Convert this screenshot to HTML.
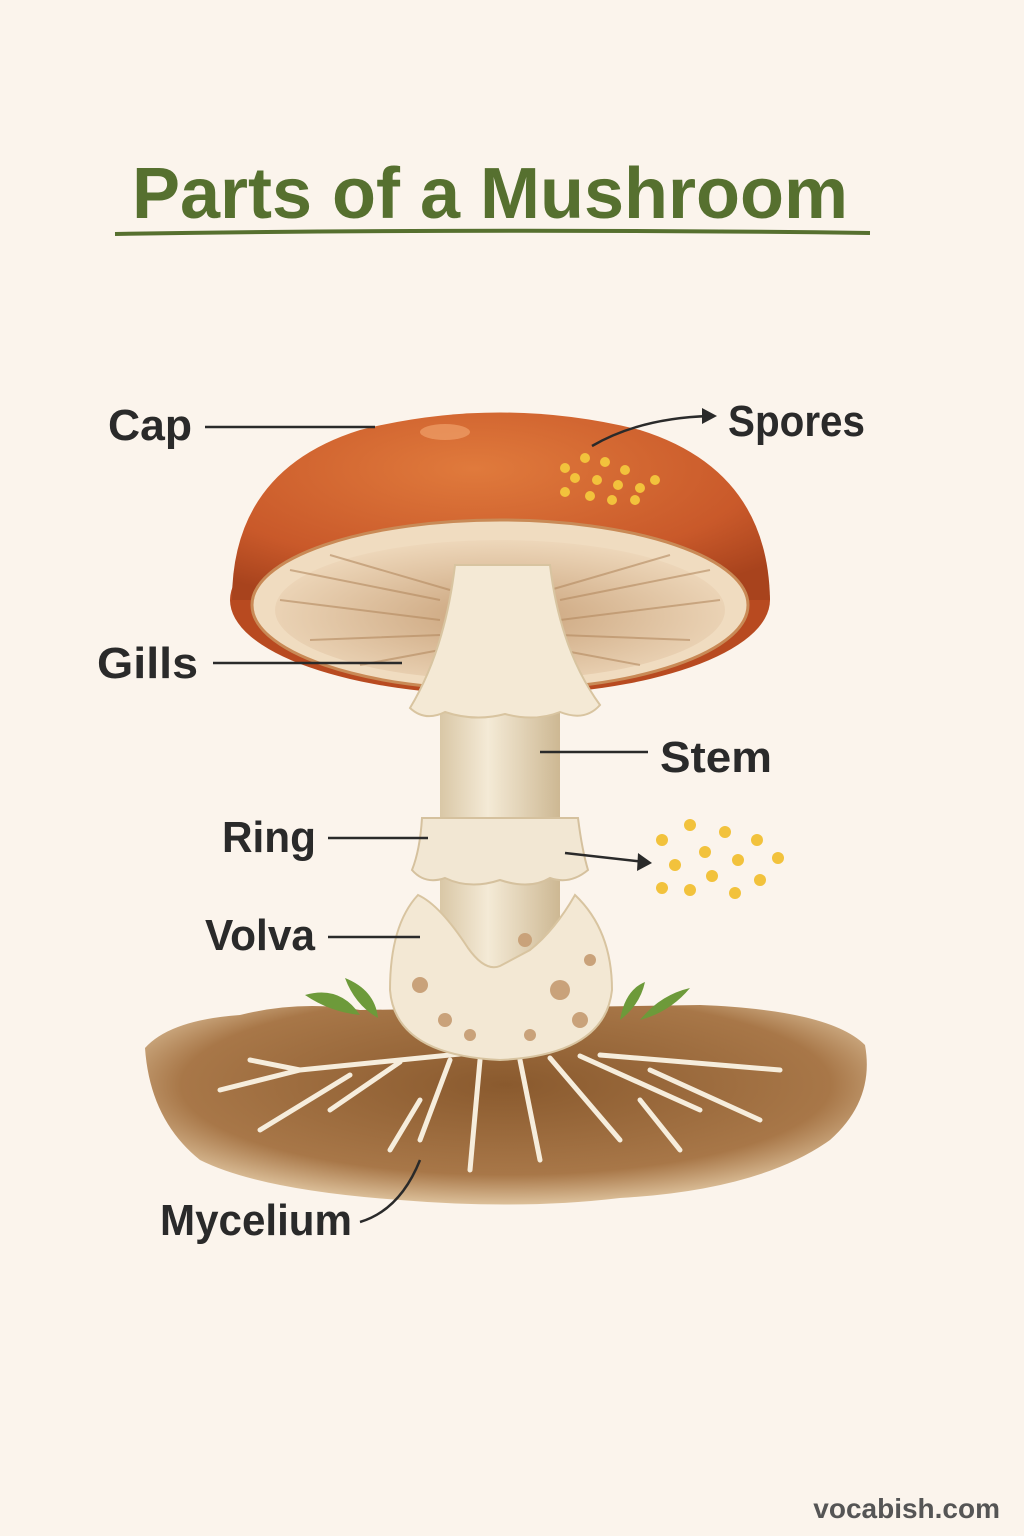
<!DOCTYPE html>
<html><head><meta charset="utf-8"><style>
html,body{margin:0;padding:0;background:#fbf4ec;}
svg{display:block}
text{font-family:"Liberation Sans","DejaVu Sans",sans-serif;font-weight:bold;}
</style></head><body>
<svg width="1024" height="1536" viewBox="0 0 1024 1536" xmlns="http://www.w3.org/2000/svg">
<defs>
<radialGradient id="capg" cx="0.45" cy="0.3" r="0.75">
<stop offset="0" stop-color="#e07a3c"/><stop offset="0.7" stop-color="#c9592a"/><stop offset="1" stop-color="#a8431d"/></radialGradient>
<radialGradient id="gillg" cx="0.5" cy="0.55" r="0.6">
<stop offset="0" stop-color="#c9a27a"/><stop offset="1" stop-color="#f1dcc0"/></radialGradient>
<linearGradient id="stemg" x1="0" x2="1">
<stop offset="0" stop-color="#d9c7a6"/><stop offset="0.4" stop-color="#f4ead6"/><stop offset="1" stop-color="#cdb893"/></linearGradient>
<radialGradient id="soilg" cx="0.5" cy="0.4" r="0.6">
<stop offset="0" stop-color="#8a5a2e"/><stop offset="0.75" stop-color="#a87748"/><stop offset="1" stop-color="#dcc09a"/></radialGradient>
</defs>
<rect width="1024" height="1536" fill="#fbf4ec"/>
<text x="490" y="218" font-size="72" fill="#56702f" text-anchor="middle">Parts of a Mushroom</text>
<path d="M115 234 Q490 228 870 233" stroke="#56702f" stroke-width="4" fill="none"/>

<!-- soil -->
<path d="M145 1048 Q170 1020 240 1015 Q300 1000 360 1010 L700 1005 Q830 1010 865 1045 Q875 1100 830 1140 Q760 1190 620 1198 Q520 1210 400 1200 Q260 1190 200 1160 Q150 1120 145 1048Z" fill="url(#soilg)"/>
<g stroke="#f6eddc" stroke-width="5" fill="none" stroke-linecap="round">
<path d="M500 1050 L300 1070 L220 1090 M400 1062 L330 1110 M350 1075 L260 1130 M450 1060 L420 1140 M480 1060 L470 1170 M520 1060 L540 1160 M550 1058 L620 1140 M580 1056 L700 1110 M600 1055 L780 1070 M650 1070 L760 1120 M300 1070 L250 1060 M420 1100 L390 1150 M640 1100 L680 1150"/>
</g>
<!-- grass -->
<path d="M305 995 Q340 985 360 1015 Q330 1012 305 995Z M345 978 Q375 990 378 1018 Q355 1005 345 978Z" fill="#6d9a3a"/>
<path d="M620 1020 Q625 990 645 982 Q640 1005 620 1020Z M640 1020 Q660 995 690 988 Q670 1012 640 1020Z" fill="#6d9a3a"/>

<!-- stem -->
<rect x="440" y="560" width="120" height="410" fill="url(#stemg)"/>
<!-- volva -->
<path d="M418 895 Q440 905 468 948 Q485 972 500 966 Q515 958 530 950 Q555 930 575 895 Q612 930 612 990 Q605 1055 500 1060 Q395 1055 390 990 Q390 925 418 895Z" fill="#f3e8d4" stroke="#d8c4a0" stroke-width="2"/>
<g fill="#c9a27a"><circle cx="420" cy="985" r="8"/><circle cx="445" cy="1020" r="7"/><circle cx="560" cy="990" r="10"/><circle cx="580" cy="1020" r="8"/><circle cx="530" cy="1035" r="6"/><circle cx="470" cy="1035" r="6"/><circle cx="525" cy="940" r="7"/><circle cx="590" cy="960" r="6"/></g>
<!-- ring -->
<path d="M422 818 L578 818 Q582 850 588 870 Q570 885 550 878 Q530 890 500 880 Q470 890 445 878 Q425 885 412 870 Q420 850 422 818Z" fill="#f2e7d3" stroke="#d5c19e" stroke-width="2"/>
<!-- cap -->
<ellipse cx="500" cy="600" rx="270" ry="95" fill="#b84a20"/>
<path d="M232 600 Q232 470 360 430 Q500 395 640 430 Q768 470 770 600 Z" fill="url(#capg)"/>
<ellipse cx="500" cy="605" rx="248" ry="85" fill="#f0dcc0" stroke="#c98a56" stroke-width="3"/>
<ellipse cx="500" cy="610" rx="225" ry="70" fill="url(#gillg)"/>
<g stroke="#b48a60" stroke-width="2" opacity="0.6">
<path d="M280 600 L440 620 M290 570 L440 600 M310 640 L440 635 M330 555 L450 590 M360 665 L440 650 M720 600 L560 620 M710 570 L560 600 M690 640 L560 635 M670 555 L550 590 M640 665 L560 650"/></g>
<ellipse cx="445" cy="432" rx="25" ry="8" fill="#f0a06a" opacity="0.7"/>
<!-- upper skirt -->
<path d="M455 565 L550 565 Q560 650 600 705 Q585 722 560 712 Q535 722 505 714 Q475 722 445 712 Q425 722 410 708 Q445 650 455 565Z" fill="#f4e9d5" stroke="#d8c4a0" stroke-width="2"/>
<!-- spores on cap -->
<g fill="#f2c23c"><circle cx="565" cy="468" r="5"/><circle cx="585" cy="458" r="5"/><circle cx="605" cy="462" r="5"/><circle cx="625" cy="470" r="5"/><circle cx="575" cy="478" r="5"/><circle cx="597" cy="480" r="5"/><circle cx="618" cy="485" r="5"/><circle cx="640" cy="488" r="5"/><circle cx="565" cy="492" r="5"/><circle cx="590" cy="496" r="5"/><circle cx="612" cy="500" r="5"/><circle cx="635" cy="500" r="5"/><circle cx="655" cy="480" r="5"/></g>
<g fill="#f2c23c"><circle cx="662" cy="840" r="6"/><circle cx="690" cy="825" r="6"/><circle cx="725" cy="832" r="6"/><circle cx="757" cy="840" r="6"/><circle cx="675" cy="865" r="6"/><circle cx="705" cy="852" r="6"/><circle cx="738" cy="860" r="6"/><circle cx="778" cy="858" r="6"/><circle cx="662" cy="888" r="6"/><circle cx="690" cy="890" r="6"/><circle cx="712" cy="876" r="6"/><circle cx="735" cy="893" r="6"/><circle cx="760" cy="880" r="6"/></g>

<!-- labels -->
<g fill="#2a2a2a" font-size="44">
<text x="108" y="440" textLength="84" lengthAdjust="spacingAndGlyphs">Cap</text>
<text x="728" y="436" textLength="137" lengthAdjust="spacingAndGlyphs">Spores</text>
<text x="97" y="678" textLength="101" lengthAdjust="spacingAndGlyphs">Gills</text>
<text x="660" y="772" textLength="112" lengthAdjust="spacingAndGlyphs">Stem</text>
<text x="222" y="852" textLength="94" lengthAdjust="spacingAndGlyphs">Ring</text>
<text x="205" y="950" textLength="110" lengthAdjust="spacingAndGlyphs">Volva</text>
<text x="160" y="1235" textLength="192" lengthAdjust="spacingAndGlyphs">Mycelium</text>
</g>
<text x="1000" y="1518" font-size="28" fill="#555" text-anchor="end">vocabish.com</text>
<g stroke="#2a2a2a" stroke-width="2.5" fill="none">
<path d="M205 427 L375 427"/>
<path d="M592 446 Q640 418 710 416"/>
<path d="M213 663 L402 663"/>
<path d="M540 752 L648 752"/>
<path d="M328 838 L428 838"/>
<path d="M565 853 Q610 858 645 862"/>
<path d="M328 937 L420 937"/>
<path d="M360 1222 Q400 1210 420 1160"/>
</g>
<path d="M702 408 L717 416 L702 424Z" fill="#2a2a2a"/>
<path d="M638 853 L652 863 L637 871Z" fill="#2a2a2a"/>
</svg>
</body></html>
